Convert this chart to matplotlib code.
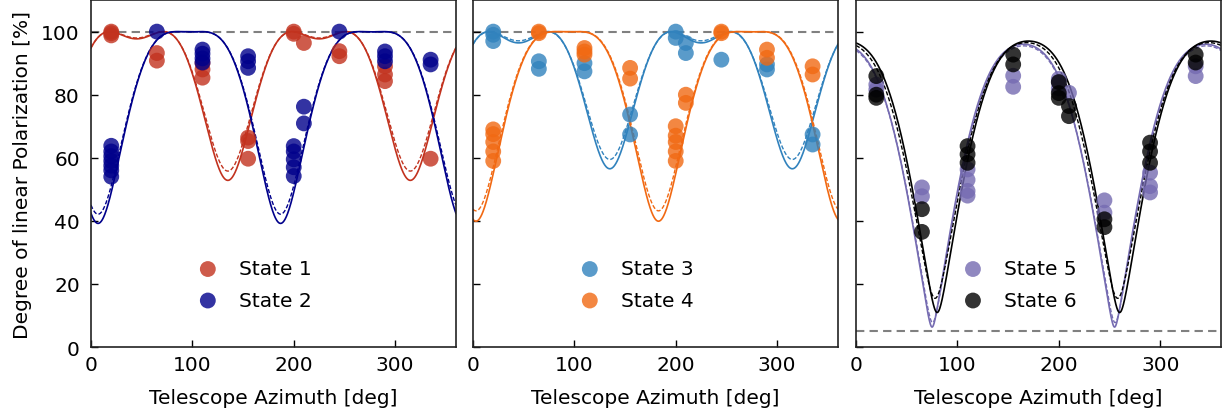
# -*- coding: utf-8 -*-
# DoLP vs telescope azimuth, 3 panels (states 1-6)
import numpy as np
import matplotlib
matplotlib.use('Agg')
import matplotlib.pyplot as plt

az1 = [20, 20, 20, 65, 65, 110, 110, 110, 155, 155, 155, 200, 200, 210, 245, 245, 290, 290, 290, 335]
dolp1 = [100, 99.5, 98.8, 93.2, 90.8, 90, 88, 85.4, 66.4, 65.3, 59.7, 100, 99.3, 96.4, 93.8, 92.2, 89, 86.4, 84.3, 59.7]

az2 = [20, 20, 20, 20, 20, 20, 20, 65, 110, 110, 110, 110, 155, 155, 155,
       200, 200, 200, 200, 200, 210, 210, 245, 290, 290, 290, 335, 335]
dolp2 = [63.8, 62, 60.5, 59, 57.5, 56, 54, 100, 94.3, 93, 91.5, 90.2, 92.2, 90.6, 88.5,
         63.7, 62, 59.5, 57, 54.2, 76.2, 70.9, 100, 93.7, 92.2, 90.6, 91.1, 89.6]

az3 = [20, 20, 20, 65, 65, 110, 110, 155, 155, 200, 200, 210, 210, 245, 290, 290, 335, 335]
dolp3 = [100, 99, 97, 90.6, 88.2, 90, 87.4, 73.7, 67.4, 100, 98, 96.4, 93.2, 91.1, 89.6, 88, 67.4, 64.2]

az4 = [20, 20, 20, 20, 20, 65, 65, 110, 110, 110, 155, 155, 200, 200, 200, 200, 200,
       210, 210, 245, 245, 290, 290, 335, 335]
dolp4 = [69, 67.5, 65, 62, 59, 100, 99.5, 94.8, 93.7, 92.7, 88.5, 85.1, 70, 67, 65, 62, 59,
         80, 77.4, 100, 99.5, 94.3, 91.7, 89, 86.4]

az5 = [20, 20, 65, 65, 110, 110, 110, 110, 155, 155, 200, 200, 200, 210, 245, 245, 290, 290, 290, 335, 335]
dolp5 = [83.2, 81.6, 50.6, 47.8, 56.3, 53, 49.5, 48, 86, 82.5, 85, 84, 82, 80.6, 46.5, 42.6, 55.3, 51, 49, 89, 85.9]

az6 = [20, 20, 20, 65, 65, 110, 110, 110, 155, 155, 200, 200, 200, 210, 210, 245, 245, 290, 290, 290, 335, 335]
dolp6 = [85.9, 80, 79, 43.7, 36.5, 63.7, 61.1, 58.4, 92.7, 89.6, 84, 80.5, 79, 76.4, 73.2, 40.5, 38, 64.8, 62, 58.4, 92.7, 90.2]

# model parameters (offset, amplitude, azimuth of minimum) for solid / dashed fits
fit_solid = {1: (0.318, 0.531, 135), 2: (0.44, 0.48, 7), 3: (0.28, 0.545, 135),
             4: (0.44, 0.477, 3), 5: (0.639, 0.359, 75), 6: (0.6185, 0.3755, 80)}
fit_dashed = {1: (0.315, 0.515, 135), 2: (0.435, 0.472, 7), 3: (0.282, 0.522, 135),
              4: (0.43, 0.472, 3), 5: (0.647, 0.35, 75.5), 6: (0.625, 0.363, 78)}

colors = {1: '#c2321e', 2: '#00008b', 3: '#3182bd', 4: '#f16913', 5: '#756bb1', 6: 'k'}
data = {1: (az1, dolp1), 2: (az2, dolp2), 3: (az3, dolp3),
        4: (az4, dolp4), 5: (az5, dolp5), 6: (az6, dolp6)}
ref_level = [100, 100, 5]


def model(az, a, b, t0):
    v = a + b*np.cos(2*np.deg2rad(az - t0))
    return 100*np.sqrt(np.clip(1 - v**2, 0, None))


plt.rcParams['font.family'] = 'DejaVu Sans'
fig = plt.figure(figsize=(12.31, 4.14), dpi=100)
lefts = [0.0739, 0.3842, 0.6954]
azg = np.linspace(0, 360, 1441)

for i, left in enumerate(lefts):
    ax = fig.add_axes([left, 0.1594, 0.2965, 0.838])
    for st in (2*i+1, 2*i+2):
        c = colors[st]
        ax.plot(azg, model(azg, *fit_solid[st]), '-', color=c, lw=1.2)
        ax.plot(azg, model(azg, *fit_dashed[st]), '--', color=c, lw=1.0, dashes=(3, 1.5))
        ax.scatter(data[st][0], data[st][1], s=130, color=c, alpha=0.8,
                   edgecolors='none', label='State %d' % st, zorder=3)
    ax.axhline(ref_level[i], color='gray', ls='--', lw=1.5, dashes=(4, 2.5), zorder=1)
    ax.set_xlim(0, 360)
    ax.set_ylim(0, 110)
    ax.set_yticks([0, 20, 40, 60, 80, 100])
    ax.set_xticks([0, 100, 200, 300])
    ax.tick_params(direction='in', length=5, width=1, labelsize=14.5)
    ax.tick_params(axis='x', pad=6)
    ax.tick_params(axis='y', pad=8)
    for sp in ax.spines.values():
        sp.set_linewidth(1.2)
        sp.set_color('#222222')
    ax.set_xlabel('Telescope Azimuth [deg]', fontsize=14.5, labelpad=10)
    if i == 0:
        ax.set_ylabel('Degree of linear Polarization [%]', fontsize=14.5, labelpad=7)
    else:
        ax.set_yticklabels([])
    ax.legend(loc='center', bbox_to_anchor=(0.435, 0.18), frameon=False,
              fontsize=14.5, handletextpad=0.55, labelspacing=0.62)

fig.savefig('out.png', dpi=100)
